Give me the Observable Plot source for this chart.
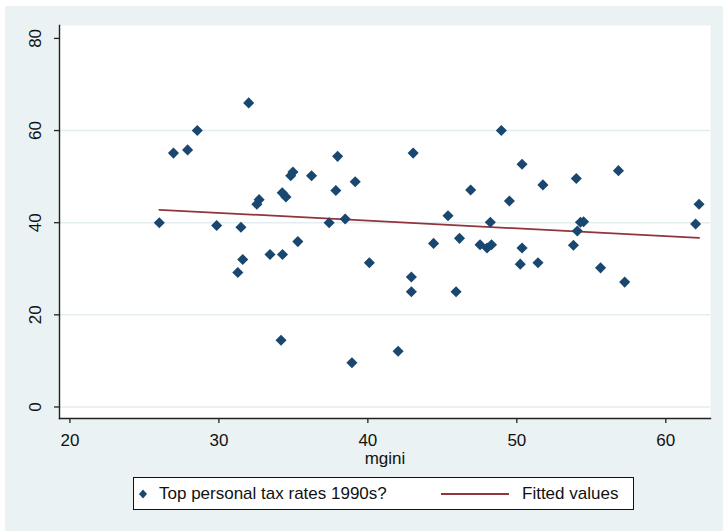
<!DOCTYPE html>
<html>
<head>
<meta charset="utf-8">
<script src="https://cdn.jsdelivr.net/npm/d3@7"></script>
<script src="https://cdn.jsdelivr.net/npm/@observablehq/plot@0.6"></script>
<style>
  body { margin: 0; background: #fff; font-family: "Liberation Sans", Arial, sans-serif; }
  #page { position: relative; width: 723px; height: 531px; overflow: hidden; }
  #bg { position: absolute; left: 5px; top: 6px; right: 0; bottom: 0; background: #eaf2f3; }
  #chart { position: absolute; left: 0; top: 0; }
  #legend {
    position: absolute; left: 133px; top: 477px; width: 499px; height: 31px;
    border: 1.5px solid #111; background: #fff; font-size: 17px; color: #111;
  }
  #legend .item { position: absolute; top: 0; height: 31px; line-height: 31px; white-space: nowrap; }
  #legend svg { position: absolute; }
</style>
</head>
<body>
<div id="page">
  <div id="bg"></div>
  <div id="chart"></div>
  <div id="legend">
    <svg style="left:3px;top:10px" width="12" height="12"><path d="M6,1.5L10,6L6,10.5L2,6Z" fill="#1a476f"/></svg>
    <div class="item" style="left:25px">Top personal tax rates 1990s?</div>
    <svg style="left:307px;top:14px" width="70" height="4"><line x1="0" y1="2" x2="68" y2="2" stroke="#90353b" stroke-width="2"/></svg>
    <div class="item" style="left:388px">Fitted values</div>
  </div>
</div>
<script>
// Gini coefficient (mgini) against top personal income tax rate, 1990s
const mgini = [26.0, 26.95, 27.9, 28.55, 29.85, 32.0, 31.27, 31.48, 31.6, 32.55,
  32.7, 33.43, 34.27, 34.17, 34.25, 34.5, 34.82, 34.97, 35.3, 36.22,
  37.4, 37.85, 37.97, 38.48, 39.15, 38.93, 40.1, 42.03, 42.92, 42.92,
  43.04, 44.41, 45.38, 45.92, 46.15, 46.9, 47.53, 48.0, 48.3, 48.22,
  48.96, 49.5, 50.35, 50.35, 50.23, 51.42, 51.75, 53.8, 53.99, 54.06,
  54.27, 54.48, 55.62, 56.82, 57.24, 62.0, 62.23];
const topTaxRate = [40.0, 55.1, 55.8, 60.0, 39.4, 66.0, 29.2, 39.0, 32.0, 44.0,
  45.0, 33.1, 33.1, 14.5, 46.5, 45.6, 50.2, 51.0, 35.9, 50.2,
  40.0, 47.0, 54.4, 40.8, 48.9, 9.6, 31.3, 12.1, 28.2, 25.0,
  55.1, 35.5, 41.5, 25.0, 36.6, 47.1, 35.2, 34.5, 35.2, 40.1,
  60.0, 44.7, 52.7, 34.5, 31.0, 31.3, 48.2, 35.1, 49.6, 38.2,
  40.1, 40.2, 30.2, 51.3, 27.1, 39.7, 44.0];

// Fitted values at the ends of the mgini range
const fitX = [26.0, 62.23];
const fitY = [42.8, 36.7];

const xTicks = [20, 30, 40, 50, 60];
const yTicks = [0, 20, 40, 60, 80];
const yGridLines = [0, 20, 40, 60];

const points = mgini.map((x, i) => ({x, y: topTaxRate[i]}));
const fitted = fitX.map((x, i) => ({x, y: fitY[i]}));

const chart = Plot.plot({
  width: 723,
  height: 470,
  marginLeft: 59,
  marginRight: 13,
  marginTop: 25,
  marginBottom: 52,
  style: {background: "transparent", fontFamily: "'Liberation Sans', Arial, sans-serif", fontSize: "17px", color: "#111"},
  x: {domain: [19.3, 63.0]},
  y: {domain: [-2.5, 82.8]},
  marks: [
    Plot.frame({fill: "white", stroke: null}),
    Plot.ruleY(yGridLines, {stroke: "#e3edf0", strokeWidth: 1.5}),
    Plot.axisX(xTicks, {tickSize: 5, tickPadding: 10, stroke: "#222", strokeWidth: 1.3,
      label: "mgini", labelAnchor: "center", labelArrow: "none", labelOffset: 45}),
    Plot.axisY(yTicks, {tickSize: 5, tickPadding: 14, tickRotate: -90, stroke: "#222", strokeWidth: 1.3, label: null}),
    Plot.frame({anchor: "left", stroke: "#222", strokeWidth: 1.4}),
    Plot.frame({anchor: "bottom", stroke: "#222", strokeWidth: 1.4}),
    Plot.line(fitted, {x: "x", y: "y", stroke: "#90353b", strokeWidth: 1.8}),
    Plot.dot(points, {x: "x", y: "y", symbol: "diamond2", r: 5, fill: "#1a476f", stroke: null})
  ]
});
document.getElementById("chart").appendChild(chart);
</script>
</body>
</html>
